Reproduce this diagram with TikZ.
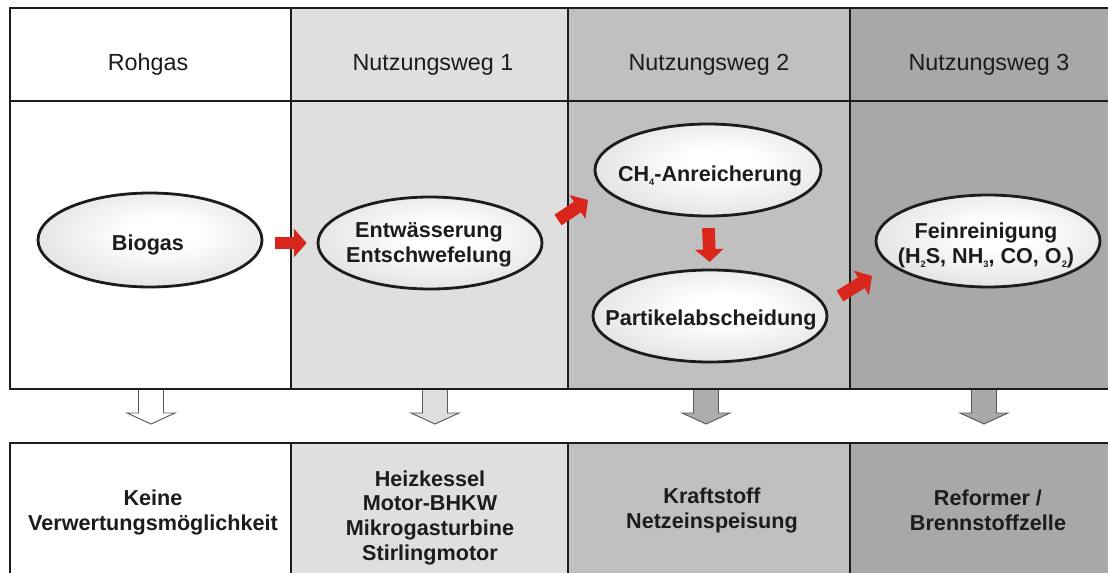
\documentclass[tikz,border=0pt]{standalone}
\usepackage{fontspec}
\setmainfont{Liberation Sans}
\usetikzlibrary{arrows.meta,shapes.geometric}
\definecolor{colB}{HTML}{DFDFDF}
\definecolor{colC}{HTML}{C0C0C0}
\definecolor{colD}{HTML}{A8A8A8}
\definecolor{arrred}{HTML}{D8261C}
\definecolor{ink}{HTML}{1C1C1C}
\definecolor{shadeout}{HTML}{969696}
\pgfdeclareradialshading{ovalshade}{\pgfpoint{3bp}{4bp}}{color(0bp)=(white); color(8bp)=(white); color(30bp)=(white!72!shadeout); color(48bp)=(shadeout); color(100bp)=(shadeout)}
\newcommand\lowsub[1]{\raisebox{-3pt}{\fontsize{7}{7}\selectfont #1}}
\tikzset{
 gridline/.style={line width=2pt, draw=ink},
 hdrtext/.style={font=\fontsize{17.5}{20}\selectfont, text=ink, inner sep=0pt, anchor=base},
 ovaltext/.style={font=\fontsize{16.2}{18.75}\selectfont\bfseries, text=ink, inner sep=0pt, align=center},
 bottext/.style={font=\fontsize{16.2}{18.5}\selectfont\bfseries, text=ink, inner sep=0pt, align=center},
 oval/.style={ellipse, draw=ink, line width=2.1pt, shade, shading=ovalshade, inner sep=0pt},
 redarrow/.style={draw=arrred, line width=9.5pt, -{Triangle[width=21pt,length=9.5pt]}},
 harrow/.pic={\filldraw[draw=black!65, line width=0.7pt, pic actions] (-12.5,0) -- (12.5,0) -- (12.5,24) -- (24,24) -- (0,35) -- (-24,24) -- (-12.5,24) -- cycle;}
}
\begin{document}
\begin{tikzpicture}[x=0.75pt,y=-0.75pt]
\useasboundingbox (0,0) rectangle (1108,572);
\clip (0,0) rectangle (1108,572);
\fill[white] (0,0) rectangle (1108,572);
% column fills
\fill[colB] (291,8) rectangle (568,389);
\fill[colC] (568,8) rectangle (850,389);
\fill[colD] (850,8) rectangle (1126,389);
\fill[colB] (291,443) rectangle (568,610);
\fill[colC] (568,443) rectangle (850,610);
\fill[colD] (850,443) rectangle (1126,610);
% hollow arrows
\pic[fill=white] at (151,389) {harrow};
\pic[fill=colB] at (435,389) {harrow};
\pic[fill=colC!90!black] at (706,389) {harrow};
\pic[fill=colD] at (984,389) {harrow};
% grid
\draw[gridline] (10,8) rectangle (1126,389);
\draw[gridline] (10,101) -- (1126,101);
\draw[gridline] (291,8) -- (291,389);
\draw[gridline] (568,8) -- (568,389);
\draw[gridline] (850,8) -- (850,389);
\draw[gridline] (10,443) rectangle (1126,610);
\draw[gridline] (291,443) -- (291,610);
\draw[gridline] (568,443) -- (568,610);
\draw[gridline] (850,443) -- (850,610);
% headers
\node[hdrtext] (h1) at (148,70) {Rohgas};
\node[hdrtext] (h2) at (433,70) {Nutzungsweg 1};
\node[hdrtext] (h3) at (709,70) {Nutzungsweg 2};
\node[hdrtext] (h4) at (989,70) {Nutzungsweg 3};
% ellipses
\node[oval, minimum width=168pt, minimum height=70.5pt] (bio) at (150,240) {};
\node[oval, minimum width=168pt, minimum height=69pt] (ent) at (430,243) {};
\node[oval, minimum width=169.5pt, minimum height=69pt] (ch4) at (708,170) {};
\node[oval, minimum width=175.5pt, minimum height=69pt] (part) at (710,316) {};
\node[oval, minimum width=168pt, minimum height=69pt] (fein) at (988,241) {};
\node[ovaltext, anchor=base] (tbio) at (148,250) {Biogas};
\node[ovaltext] (tent) at (429,245) {Entwässerung\\Entschwefelung};
\node[ovaltext, anchor=base] (tch4) at (710,181.7) {CH\lowsub{4}-Anreicherung};
\node[ovaltext, anchor=base] (tpart) at (711,325) {Partikelabscheidung};
\node[ovaltext] (tfein) at (986,245) {Feinreinigung\\(H\lowsub{2}S, NH\lowsub{3}, CO, O\lowsub{2})};
% red arrows
\coordinate (r1s) at (558,220);
\coordinate (r1e) at (588,200);
\coordinate (r2s) at (840,296);
\coordinate (r2e) at (872,276);
\draw[redarrow, shorten <=9pt, shorten >=7.5pt] (bio.east |- ent.west) -- (ent.west);
\draw[redarrow] (r1s) -- (r1e);
\draw[redarrow, shorten <=8pt, shorten >=5pt] (ch4.south) -- (part.north);
\draw[redarrow] (r2s) -- (r2e);
% bottom texts
\node[bottext] (b1) at (153,512.6) {Keine\\Verwertungsmöglichkeit};
\node[bottext] (b2) at (430,517.6) {Heizkessel\\Motor-BHKW\\Mikrogasturbine\\Stirlingmotor};
\node[bottext] (b3) at (712,510.4) {Kraftstoff\\Netzeinspeisung};
\node[bottext] (b4) at (988,510) {Reformer /\\Brennstoffzelle};
\end{tikzpicture}
\end{document}
